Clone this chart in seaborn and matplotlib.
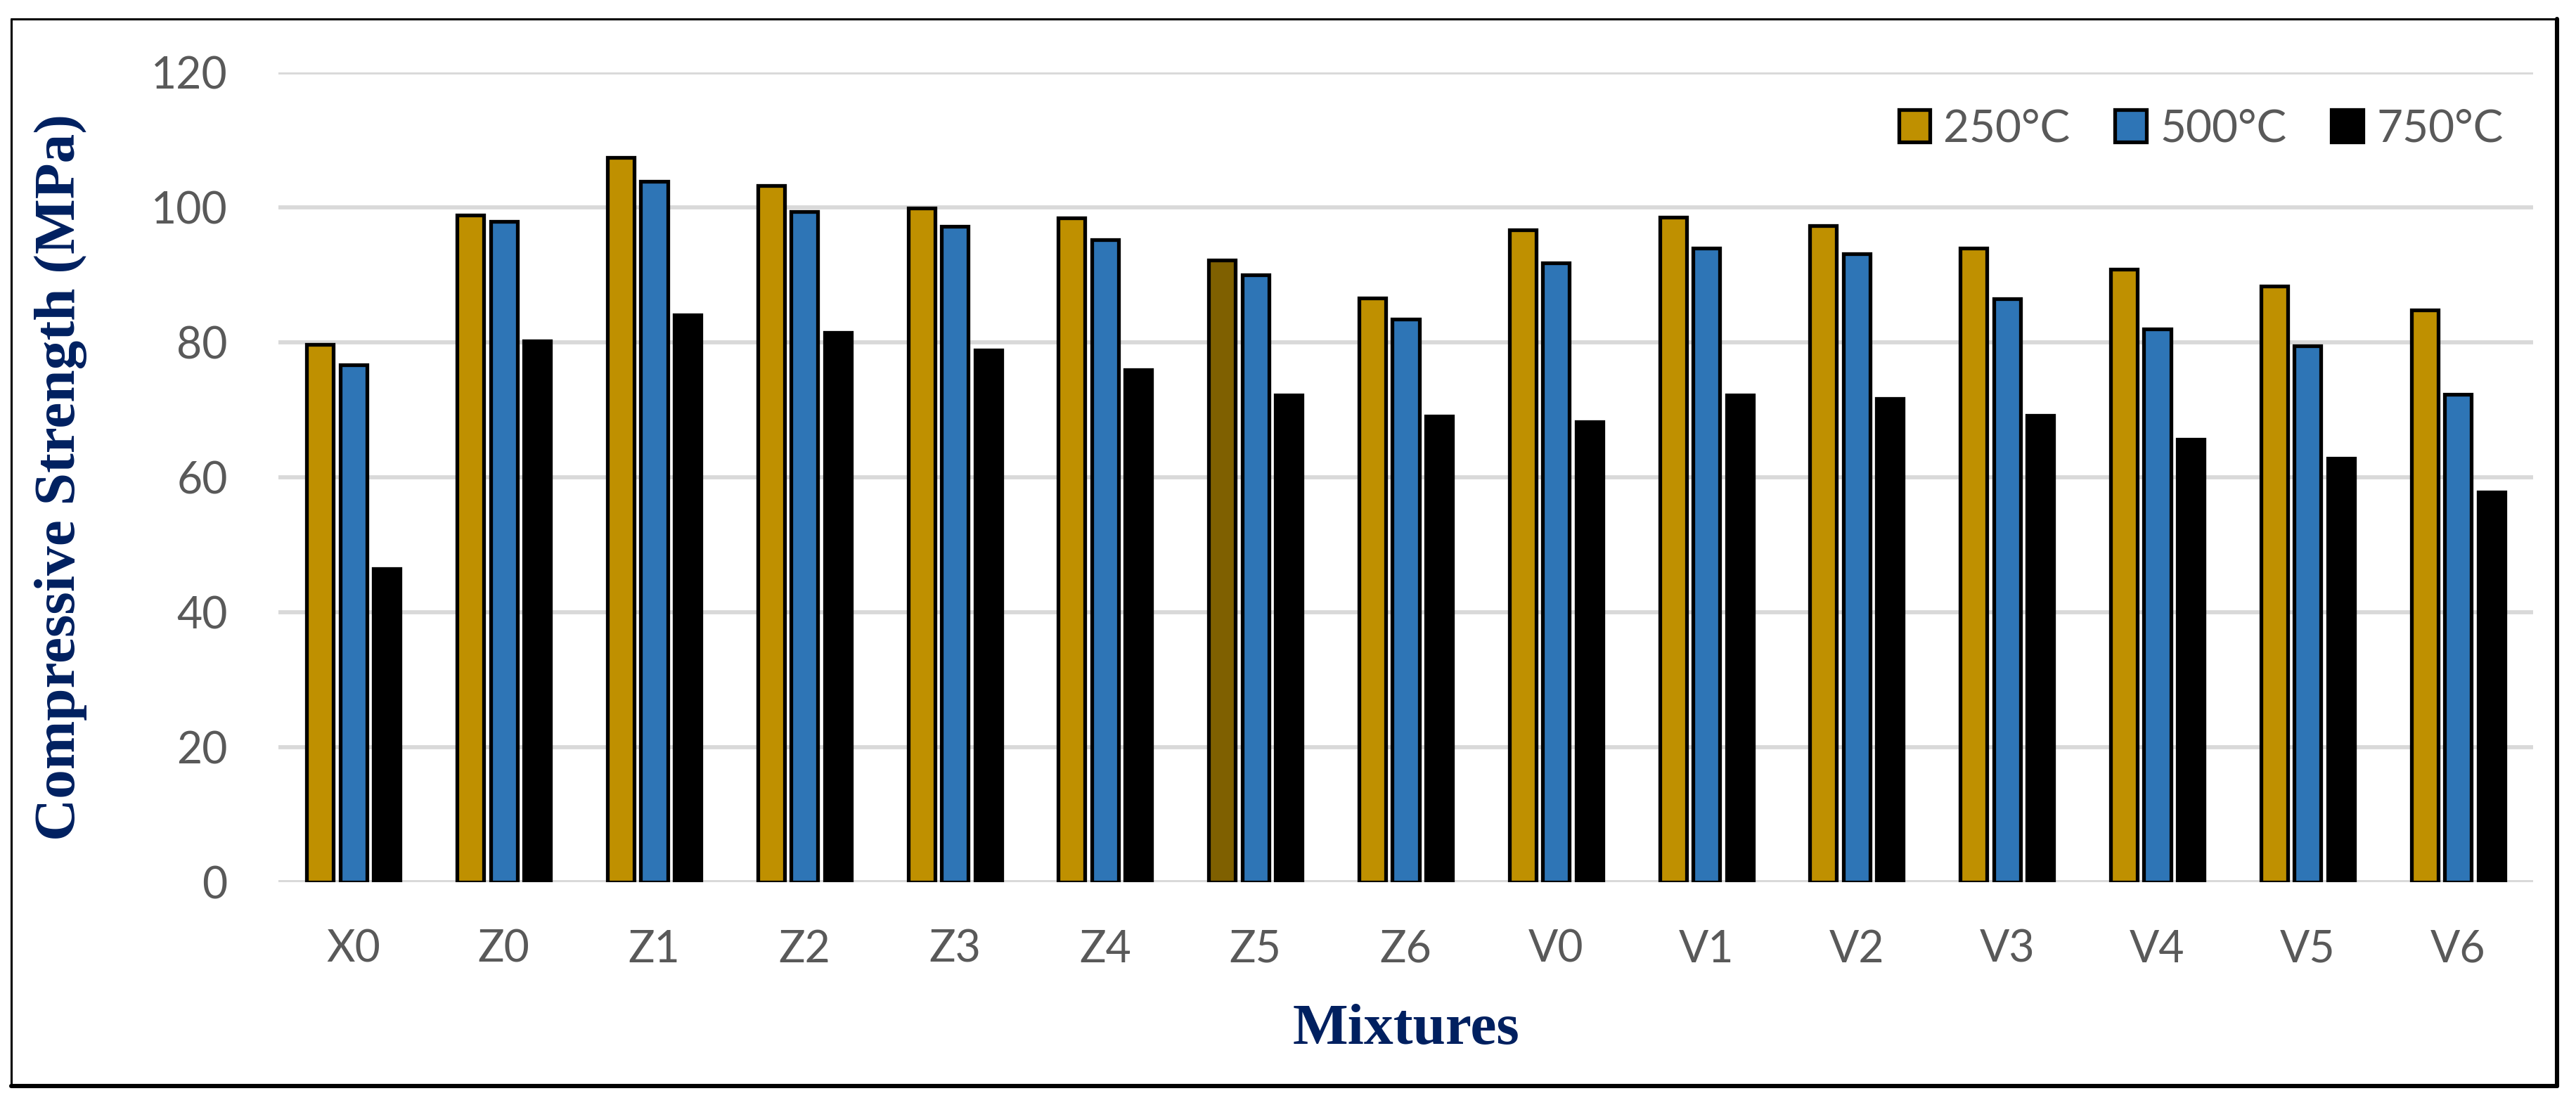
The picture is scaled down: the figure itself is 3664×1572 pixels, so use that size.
import pandas as pd
import matplotlib.pyplot as plt
import seaborn as sns
from matplotlib.lines import Line2D

# Data
mixtures = ['X0', 'Z0', 'Z1', 'Z2', 'Z3', 'Z4', 'Z5', 'Z6',
            'V0', 'V1', 'V2', 'V3', 'V4', 'V5', 'V6']
temps = ['250°C', '500°C', '750°C']
strength_250 = [79.7, 98.9, 107.4, 103.2, 99.9, 98.4, 92.2, 86.6,
                96.7, 98.5, 97.3, 94.0, 90.8, 88.3, 84.8]
strength_500 = [76.7, 97.9, 103.9, 99.4, 97.2, 95.2, 90.0, 83.4,
                91.8, 94.0, 93.1, 86.5, 82.0, 79.5, 72.3]
strength_750 = [46.5, 80.2, 84.1, 81.5, 78.9, 75.9, 72.2, 69.1,
                68.2, 72.2, 71.7, 69.2, 65.6, 62.8, 57.8]
y_ticks = [0, 20, 40, 60, 80, 100, 120]

colors = ['#BF9000', '#2E75B6', '#000000']
z5_color = '#7F6000'   # the Z5 / 250°C bar is drawn darker in the original
tick_grey = '#595959'
navy = '#002060'


def build_frame():
    rows = []
    for t, vals in zip(temps, [strength_250, strength_500, strength_750]):
        for m, v in zip(mixtures, vals):
            rows.append({'Mixture': m, 'Temperature': t, 'Strength': v})
    return pd.DataFrame(rows)


def main():
    df = build_frame()

    sns.set_style('white')
    plt.rcParams['font.family'] = ['Lato', 'DejaVu Sans']

    W, H = 3664, 1572
    fig = plt.figure(figsize=(W / 200, H / 200), dpi=200)
    ax = fig.add_axes([396 / W, 1 - 1255 / H, 3207 / W, 1152 / H])

    sns.barplot(data=df, x='Mixture', y='Strength', hue='Temperature',
                order=mixtures, hue_order=temps, palette=colors,
                width=0.667, gap=0.2, edgecolor='black', linewidth=1.9,
                errorbar=None, saturation=1, ax=ax, zorder=3)

    # darker Z5 bar in the 250°C series
    ax.containers[0][mixtures.index('Z5')].set_facecolor(z5_color)

    ax.set_ylim(0, 120)
    ax.set_xlim(-0.5, len(mixtures) - 0.5)
    ax.set_yticks(y_ticks)
    ax.yaxis.grid(True, color='#D9D9D9', linewidth=2.1, zorder=0)
    ax.set_axisbelow(True)
    for s in ax.spines.values():
        s.set_visible(False)
    ax.tick_params(axis='both', length=0, labelsize=22.5, labelcolor=tick_grey)
    ax.tick_params(axis='y', pad=26)
    ax.tick_params(axis='x', pad=24)
    ax.set_xlabel('')
    ax.set_ylabel('')

    # zero baseline
    ax.axhline(0, color='#D9D9D9', linewidth=2.1, zorder=1)

    # legend along the top right
    ax.get_legend().remove()
    handles = ax.containers
    leg = fig.legend([h[0] for h in handles], temps, ncol=3, frameon=False,
                     loc='center right', bbox_to_anchor=(3586 / W, 1 - 183 / H),
                     fontsize=23, handlelength=0.7, handleheight=0.73,
                     handletextpad=0.3, columnspacing=1.0, borderaxespad=0)
    for t in leg.get_texts():
        t.set_color(tick_grey)

    # axis titles
    fig.text(86 / W, 1 - 679 / H, 'Compressive Strength (MPa)', rotation=90,
             ha='center', va='center', fontsize=30, fontweight='bold',
             family='Liberation Serif', color=navy)
    fig.text(2000 / W, 1 - 1465 / H, 'Mixtures', ha='center', va='center',
             fontsize=30, fontweight='bold', family='Liberation Serif', color=navy)

    # chart border with heavier right/bottom edge
    x0, x1 = 16 / W, 3637 / W
    y0, y1 = 1 - 1545 / H, 1 - 27 / H
    fig.add_artist(Line2D([x0, x1], [y1, y1], color='black', lw=1.1))
    fig.add_artist(Line2D([x0, x0], [y0, y1], color='black', lw=1.1))
    fig.add_artist(Line2D([x1, x1], [y0, y1], color='black', lw=2.2))
    fig.add_artist(Line2D([x0, x1], [y0, y0], color='black', lw=2.2))

    fig.savefig('out.png', dpi=200, facecolor='white')


if __name__ == "__main__":
    main()
